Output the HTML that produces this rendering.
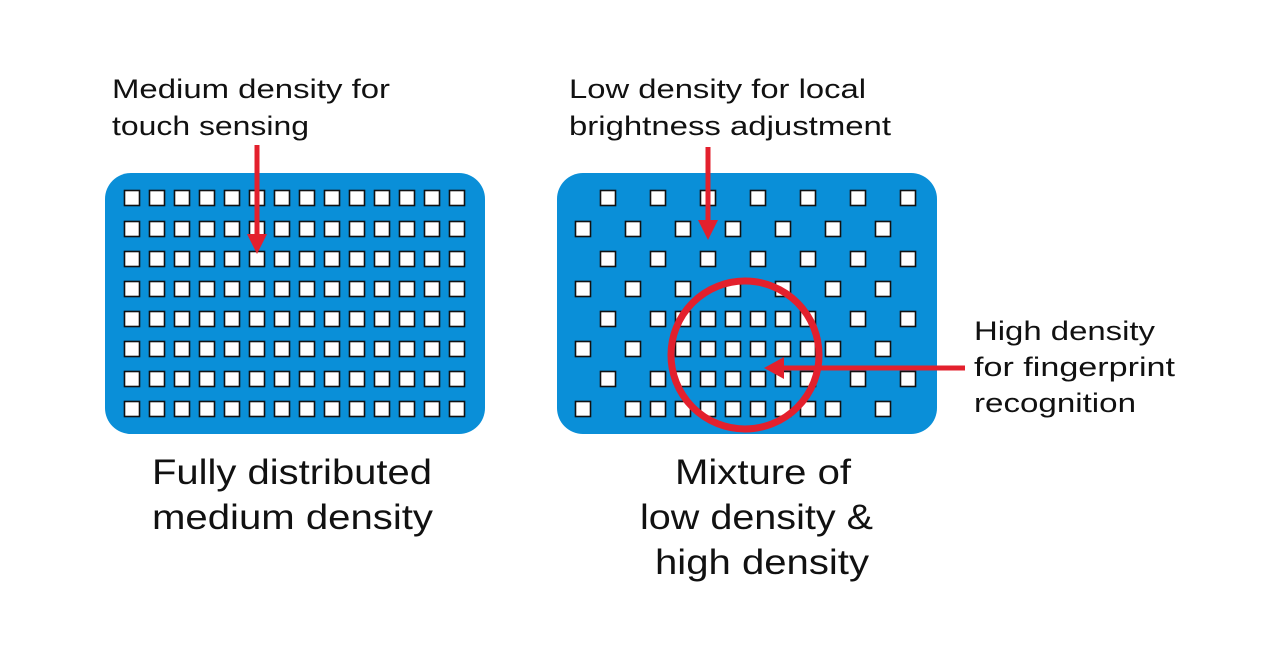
<!DOCTYPE html>
<html><head><style>
body{margin:0;width:1280px;height:652px;background:#fff;overflow:hidden}
svg text{font-family:"Liberation Sans",sans-serif;fill:#111}
</style></head><body>
<svg width="1280" height="652" xmlns="http://www.w3.org/2000/svg">
<rect x="105" y="173" width="380" height="261" rx="26" fill="#0a8fd8"/>
<rect x="557" y="173" width="380" height="261" rx="26" fill="#0a8fd8"/>
<g id="sq" fill="#fff" stroke="#111" stroke-width="1.6"></g>
<g font-size="27" lengthAdjust="spacingAndGlyphs">
<text x="112" y="98" textLength="278" lengthAdjust="spacingAndGlyphs">Medium density for</text>
<text x="112" y="135" textLength="197" lengthAdjust="spacingAndGlyphs">touch sensing</text>
<text x="569" y="98" textLength="297" lengthAdjust="spacingAndGlyphs">Low density for local</text>
<text x="569" y="135" textLength="322" lengthAdjust="spacingAndGlyphs">brightness adjustment</text>
<text x="974" y="340" textLength="181" lengthAdjust="spacingAndGlyphs">High density</text>
<text x="974" y="376" textLength="201" lengthAdjust="spacingAndGlyphs">for fingerprint</text>
<text x="974" y="412" textLength="162" lengthAdjust="spacingAndGlyphs">recognition</text>
</g>
<g font-size="35">
<text x="152" y="484" textLength="280" lengthAdjust="spacingAndGlyphs">Fully distributed</text>
<text x="152" y="529" textLength="281" lengthAdjust="spacingAndGlyphs">medium density</text>
<text x="675" y="484" textLength="176" lengthAdjust="spacingAndGlyphs">Mixture of</text>
<text x="640" y="529" textLength="233" lengthAdjust="spacingAndGlyphs">low density &amp;</text>
<text x="655" y="574" textLength="214" lengthAdjust="spacingAndGlyphs">high density</text>
</g>
<g stroke="#e3202d" fill="none" stroke-width="5">
<line x1="257" y1="145" x2="257" y2="238"/>
<line x1="708" y1="147" x2="708" y2="224"/>
<line x1="965" y1="368" x2="780" y2="368"/>
<circle cx="745" cy="355" r="74" stroke-width="7"/>
</g>
<g fill="#e3202d">
<polygon points="247,234 267,234 257,254"/>
<polygon points="698,220 718,220 708,240"/>
<polygon points="784,357 784,379 764,368"/>
</g>
</svg>
<script>
var g=document.getElementById('sq'),ns='http://www.w3.org/2000/svg';
function s(cx,cy){var r=document.createElementNS(ns,'rect');r.setAttribute('x',cx-7.5);r.setAttribute('y',cy-7.5);r.setAttribute('width',15);r.setAttribute('height',15);g.appendChild(r);}
var ys=[198,229,259,289,319,349,379,409];
for(var r=0;r<8;r++)for(var c=0;c<14;c++)s(132+25*c,ys[r]);
var rows=[[1,3,5,7,9,11,13],[0,2,4,6,8,10,12],[1,3,5,7,9,11,13],[0,2,4,6,8,10,12],[1,3,4,5,6,7,8,9,11,13],[0,2,4,5,6,7,8,9,10,12],[1,3,4,5,6,7,8,9,11,13],[0,2,3,4,5,6,7,8,9,10,12]];
for(var r=0;r<8;r++)rows[r].forEach(function(c){s(583+25*c,ys[r]);});
</script>
</body></html>
